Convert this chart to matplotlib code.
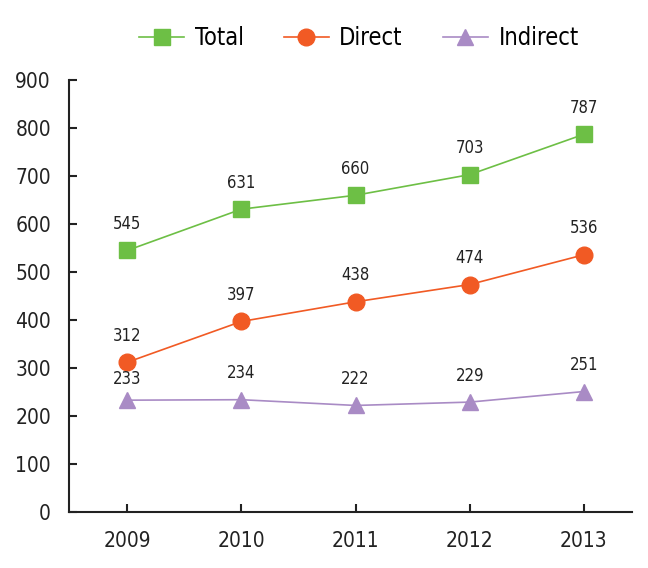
import matplotlib.pyplot as plt

# data
years = [2009, 2010, 2011, 2012, 2013]
total = [545, 631, 660, 703, 787]
direct = [312, 397, 438, 474, 536]
indirect = [233, 234, 222, 229, 251]

plt.rcParams['font.family'] = ['DejaVu Sans']
plt.rcParams['font.stretch'] = 'condensed'

fig = plt.figure(figsize=(6.48, 5.68), dpi=100)
ax = fig.add_axes([0.1065, 0.0986, 0.8685, 0.7604])

series = [
    ('Total', total, '#6dbf45', 's'),
    ('Direct', direct, '#f15a24', 'o'),
    ('Indirect', indirect, '#a98bc5', '^'),
]
for name, vals, col, mk in series:
    ax.plot(years, vals, color=col, lw=1.2, marker=mk, ms=12, mec=col, mfc=col, label=name)
    for x, v in zip(years, vals):
        # the 2009 indirect label sits a bit lower, under the direct marker
        dy = 11.5 if (name == 'Indirect' and x == 2009) else 15.5
        ax.annotate(str(v), (x, v), xytext=(0, dy), textcoords='offset points',
                    ha='center', va='baseline', fontsize=12, color='#222222')

ax.set_xlim(2008.49, 2013.42)
ax.set_ylim(0, 900)
ax.set_xticks(years)
ax.set_yticks(range(0, 901, 100))
ax.tick_params(direction='in', length=6, width=1.5, labelsize=15, colors='#222222', pad=14)
ax.tick_params(axis='y', pad=13)
for s in ['top', 'right']:
    ax.spines[s].set_visible(False)
for s in ['left', 'bottom']:
    ax.spines[s].set_linewidth(1.5)
    ax.spines[s].set_color('#222222')

fig.legend(loc='center', bbox_to_anchor=(0.554, 0.933), ncol=3, frameon=False,
           fontsize=17, handlelength=1.9, columnspacing=1.7, handletextpad=0.45)

fig.savefig('out.png', dpi=100)
